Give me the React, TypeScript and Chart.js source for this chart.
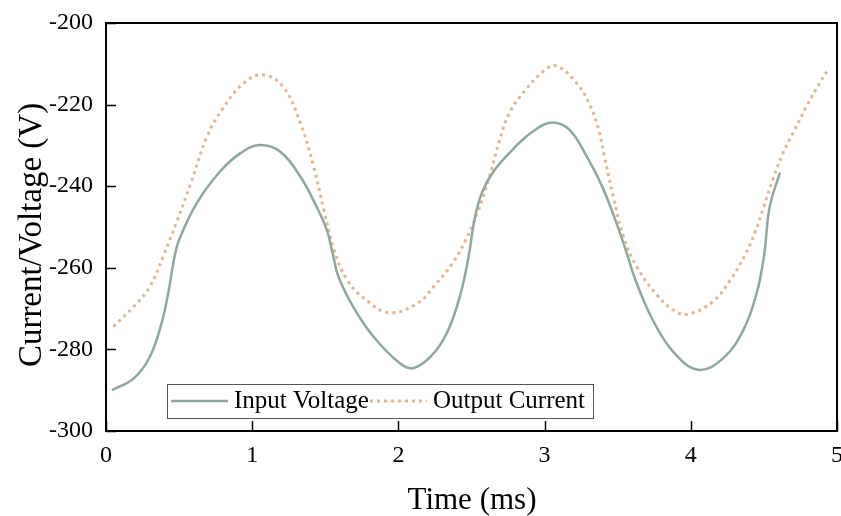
import React, { useEffect, useRef } from "react";
import { Chart, registerables } from "chart.js";

Chart.register(...registerables);

const voltageX = [0.04, 0.19, 0.30, 0.38, 0.43, 0.46, 0.50, 0.62, 0.78, 0.92, 1.05, 1.19, 1.33, 1.44, 1.51, 1.55, 1.59, 1.69, 1.83, 2.01, 2.10, 2.22, 2.33, 2.42, 2.48, 2.52, 2.57, 2.65, 2.79, 2.92, 3.05, 3.17, 3.29, 3.38, 3.45, 3.54, 3.63, 3.74, 3.88, 4.05, 4.22, 4.36, 4.45, 4.50, 4.54, 4.61];
const voltageY = [-290, -287.1, -281.8, -273.6, -265.4, -258.9, -253.2, -244.2, -236.4, -231.9, -229.9, -231.5, -237.7, -245.0, -250.7, -256.4, -262.2, -269.5, -276.9, -283.4, -284.6, -281.8, -276.1, -267.1, -257.3, -248.3, -241.7, -236.4, -230.7, -226.6, -224.4, -226.2, -232.8, -239.0, -245.0, -254.0, -263.8, -272.8, -280.6, -285.0, -282.2, -275.2, -266.3, -257.3, -245.0, -236.7];

const currentX = [0.05, 0.19, 0.30, 0.39, 0.48, 0.58, 0.69, 0.80, 0.94, 1.07, 1.21, 1.33, 1.42, 1.49, 1.56, 1.65, 1.78, 1.94, 2.13, 2.25, 2.37, 2.46, 2.54, 2.62, 2.69, 2.76, 2.87, 2.99, 3.08, 3.22, 3.31, 3.37, 3.41, 3.47, 3.54, 3.63, 3.77, 3.90, 3.99, 4.15, 4.27, 4.37, 4.44, 4.50, 4.56, 4.63, 4.71, 4.79, 4.88, 4.93];
const currentY = [-274.4, -269.5, -264.6, -257.3, -249.1, -239.3, -227.9, -220.9, -214.8, -212.7, -215.6, -224.6, -235.2, -245.8, -255.6, -263.0, -267.9, -271.0, -268.7, -264.2, -258.9, -253.2, -246.6, -238.0, -229.0, -222.0, -216.4, -211.9, -210.5, -214.8, -220.1, -226.2, -232.8, -242.6, -252.4, -259.7, -266.7, -270.8, -271.3, -268.3, -263.0, -256.9, -251.2, -245.0, -238.5, -231.9, -226.2, -220.5, -214.8, -211.9];

const seriesNames = ["Input Voltage", "Output Current"];
const xTitle = "Time (ms)";
const yTitle = "Current/Voltage (V)";

const VOLT_COLOR = "#8fa89e";
const CURR_COLOR = "#e6b591";
const FONT = "'Liberation Serif', 'Times New Roman', serif";

const framePlugin = {
  id: "frame",
  afterDatasetsDraw(chart: any) {
    const { ctx, chartArea } = chart;
    const { left, right, top, bottom } = chartArea;
    ctx.save();
    ctx.strokeStyle = "#000";
    ctx.lineWidth = 2;
    ctx.strokeRect(left, top, right - left, bottom - top);
    ctx.lineWidth = 1.5;
    const xs = chart.scales.x;
    const ys = chart.scales.y;
    xs.ticks.forEach((t: any) => {
      const px = Math.round(xs.getPixelForValue(t.value)) + 0.5;
      ctx.beginPath();
      ctx.moveTo(px, bottom);
      ctx.lineTo(px, bottom - 10);
      ctx.stroke();
    });
    ys.ticks.forEach((t: any) => {
      const py = Math.round(ys.getPixelForValue(t.value)) + 0.5;
      ctx.beginPath();
      ctx.moveTo(left, py);
      ctx.lineTo(left + 10, py);
      ctx.stroke();
    });

    // axis titles
    ctx.fillStyle = "#000";
    ctx.textAlign = "center";
    ctx.textBaseline = "alphabetic";
    ctx.font = `31px ${FONT}`;
    ctx.fillText(xTitle, (left + right) / 2 + 0.5, bottom + 78);
    ctx.save();
    ctx.translate(41, (top + bottom) / 2 + 8);
    ctx.rotate(-Math.PI / 2);
    ctx.font = `33px ${FONT}`;
    ctx.fillText(yTitle, 0, 0);
    ctx.restore();

    // legend
    const lx = left + 61;
    const ly = bottom - 47;
    const lw = 426;
    const lh = 34;
    ctx.fillStyle = "#fff";
    ctx.fillRect(lx, ly, lw, lh);
    ctx.strokeStyle = "#555";
    ctx.lineWidth = 1;
    ctx.strokeRect(lx + 0.5, ly + 0.5, lw, lh);
    const cy = ly + lh / 2;
    ctx.font = `25px ${FONT}`;
    ctx.textBaseline = "middle";
    ctx.textAlign = "left";
    ctx.fillStyle = "#000";
    ctx.strokeStyle = VOLT_COLOR;
    ctx.lineWidth = 2.5;
    ctx.setLineDash([]);
    ctx.beginPath();
    ctx.moveTo(lx + 4, cy);
    ctx.lineTo(lx + 61, cy);
    ctx.stroke();
    const t1 = lx + 67;
    ctx.fillText(seriesNames[0], t1, cy);
    const w1 = ctx.measureText(seriesNames[0]).width;
    const l2 = t1 + w1 + 1;
    ctx.strokeStyle = CURR_COLOR;
    ctx.lineWidth = 3;
    ctx.setLineDash([3, 4]);
    ctx.beginPath();
    ctx.moveTo(l2, cy);
    ctx.lineTo(l2 + 57, cy);
    ctx.stroke();
    ctx.setLineDash([]);
    ctx.fillText(seriesNames[1], l2 + 63, cy);
    ctx.restore();
  },
};

export default function App() {
  const ref = useRef<HTMLCanvasElement | null>(null);
  useEffect(() => {
    if (!ref.current) return;
    const chart = new Chart(ref.current, {
      type: "line",
      data: {
        datasets: [
          {
            label: seriesNames[0],
            data: voltageX.map((x, i) => ({ x, y: voltageY[i] })),
            borderColor: VOLT_COLOR,
            borderWidth: 2.5,
            pointRadius: 0,
            tension: 0.4,
            fill: false,
          },
          {
            label: seriesNames[1],
            data: currentX.map((x, i) => ({ x, y: currentY[i] })),
            borderColor: CURR_COLOR,
            borderWidth: 3,
            borderDash: [3, 4],
            pointRadius: 0,
            tension: 0.4,
            fill: false,
          },
        ],
      },
      options: {
        animation: false,
        responsive: false,
        maintainAspectRatio: false,
        layout: { padding: { top: 23, right: 4, left: 0, bottom: 0 } },
        plugins: { legend: { display: false }, tooltip: { enabled: false } },
        scales: {
          x: {
            type: "linear",
            min: 0,
            max: 5,
            grid: { display: false, drawTicks: false },
            border: { display: false },
            ticks: { stepSize: 1, color: "#000", font: { family: FONT, size: 24 }, padding: 10 },
            title: { display: false },
            afterFit: (s: any) => { s.height = 85; s.paddingLeft = 0; s.paddingRight = 0; },
          },
          y: {
            min: -300,
            max: -200,
            grid: { display: false, drawTicks: false },
            border: { display: false },
            ticks: { stepSize: 20, color: "#000", font: { family: FONT, size: 24 }, padding: 13 },
            title: { display: false },
            afterFit: (s: any) => { s.width = 106; s.paddingTop = 0; s.paddingBottom = 0; },
          },
        },
      },
      plugins: [framePlugin],
    } as any);
    return () => chart.destroy();
  }, []);
  return (
    <div style={{ position: "fixed", left: 0, top: 0, width: 841, height: 516, background: "#fff" }}>
      <canvas ref={ref} width={841} height={516} style={{ width: 841, height: 516, display: "block" }} />
    </div>
  );
}
